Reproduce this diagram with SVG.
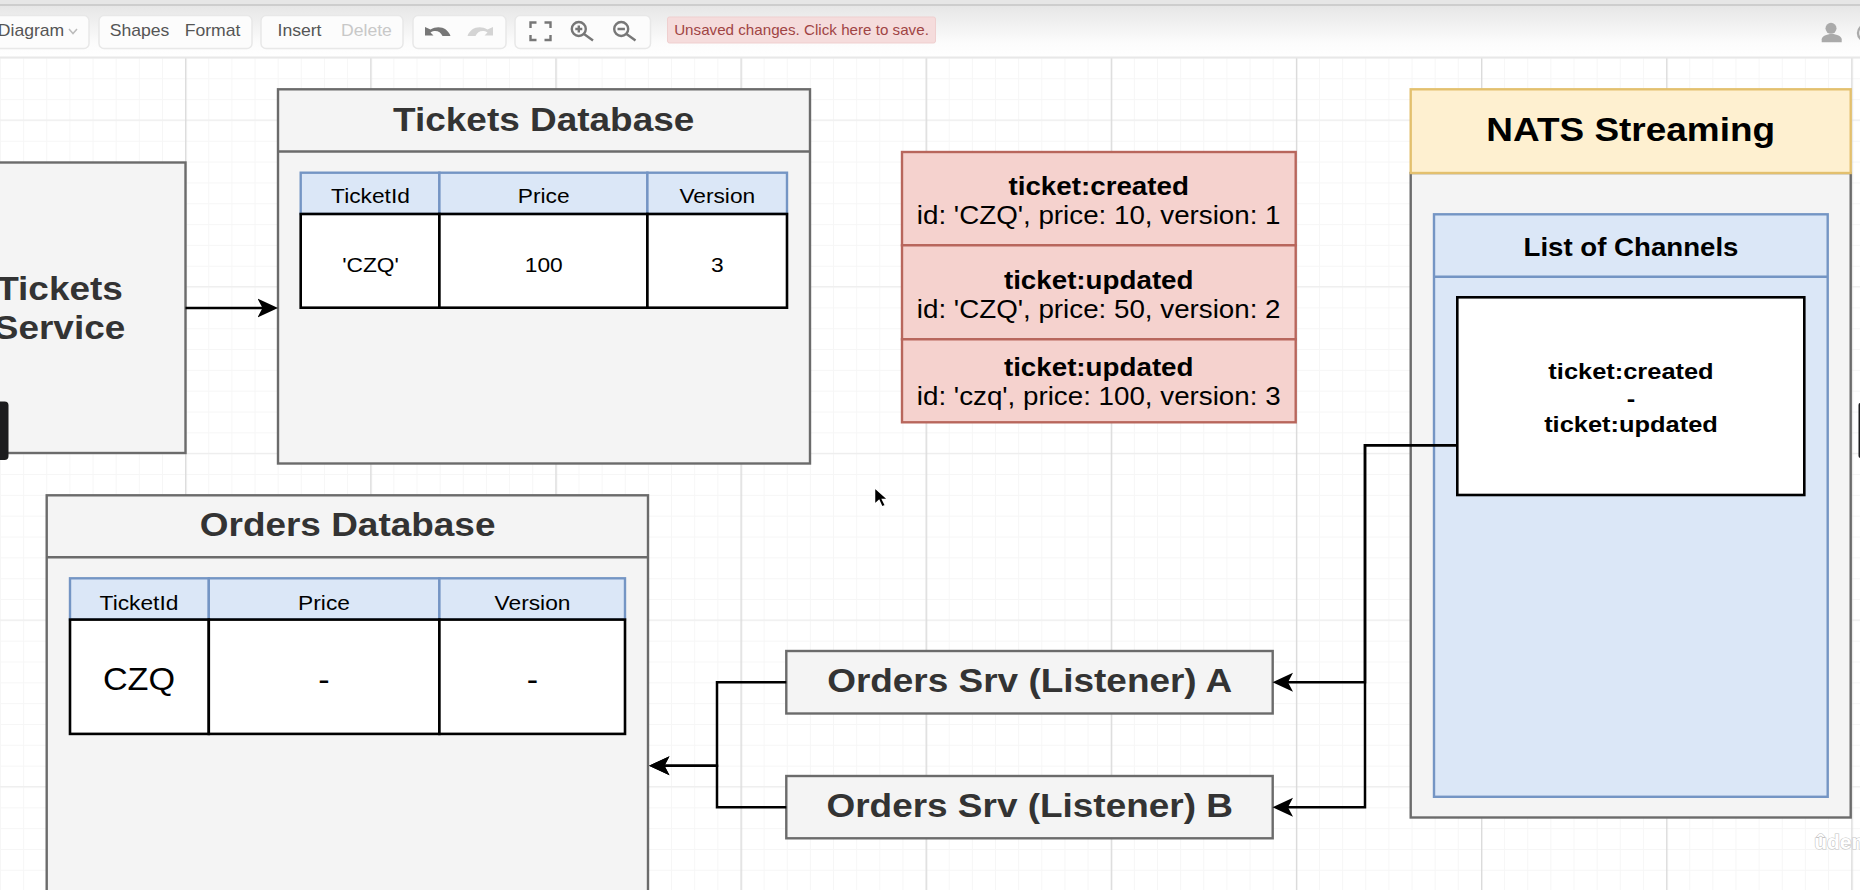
<svg xmlns="http://www.w3.org/2000/svg" width="1860" height="890" viewBox="0 0 1860 890">
<style>
text{font-family:"Liberation Sans",Arial,sans-serif;text-anchor:middle}
.box{fill:#f4f4f4;stroke:#6b6b6b;stroke-width:2.4}
.hl{fill:none;stroke:#6b6b6b;stroke-width:2.4}
.blue{fill:#dbe7f7;stroke:#7495c4;stroke-width:2.4}
.cell{fill:#fff;stroke:#000;stroke-width:2.6}
.red{fill:#f5d2ce;stroke:#b8665c;stroke-width:2.4}
.yellow{fill:#fef0d0;stroke:#e3c06e;stroke-width:2.4}
.title{font-size:33.300px;font-weight:700;fill:#333}
.th{font-size:20.500px;fill:#000}
.evb{font-size:25px;font-weight:700;fill:#000}
.ev{font-size:25px;fill:#000}
.big{font-size:30.800px;fill:#000}
.nats{font-size:33.300px;font-weight:700;fill:#000}
.list{font-size:24.900px;font-weight:700;fill:#000}
.chan{font-size:22.900px;font-weight:700;fill:#000}
.tb{font-size:16px;fill:#555}
.off{fill:#c8c8c8}
.btn{fill:#fcfcfc;stroke:#e8e8e8;stroke-width:1.5}
.ic{fill:none;stroke:#777;stroke-width:2.4}
.conn{fill:none;stroke:#000;stroke-width:2.500;marker-end:url(#arrow)}
</style>
<defs>
<linearGradient id="tbg" x1="0" y1="0" x2="0" y2="1"><stop offset="0" stop-color="#e3e3e3"/><stop offset="0.75" stop-color="#fcfcfc"/><stop offset="1" stop-color="#fff"/></linearGradient>
<pattern id="minor" patternUnits="userSpaceOnUse" x="0" y="36.600" width="23.140" height="20.830"><path d="M0.500 0V20.830M0 0.500H23.140" fill="none" stroke="#f6f6f6" stroke-width="1"/></pattern>
<pattern id="majorV" patternUnits="userSpaceOnUse" x="0" y="0" width="185.130" height="890"><path d="M0.700 0V890" fill="none" stroke="#d8d8d8" stroke-width="1.300"/></pattern>
<pattern id="majorH" patternUnits="userSpaceOnUse" x="0" y="119.500" width="1860" height="166.670"><path d="M0 0.700H1860" fill="none" stroke="#ededed" stroke-width="1.300"/></pattern>
<marker id="arrow" markerUnits="userSpaceOnUse" markerWidth="21" markerHeight="20" viewBox="0 0 21 20" refX="5.500" refY="10" orient="auto"><path d="M20.500 10L0 0.500L5 10L0 19.500Z" fill="#000"/></marker>
</defs>

<g id="canvas">
<rect width="1860" height="890" fill="#fff"/>
<rect y="58" width="1860" height="832" fill="url(#minor)"/>
<rect y="58" width="1860" height="832" fill="url(#majorH)"/>
<rect x="185" y="58" width="1675" height="832" fill="url(#majorV)"/>
</g>

<g id="toolbar">
<rect width="1860" height="58" fill="url(#tbg)"/>
<rect y="0" width="1860" height="4" fill="#e6e6e6"/>
<rect y="4" width="1860" height="2" fill="#cdcdcd"/>
<rect y="56.500" width="1860" height="2" fill="#e8e8e8"/>
<rect class="btn" x="-20" y="15.500" width="109" height="33" rx="5"/>
<rect class="btn" x="99" y="15.500" width="153" height="33" rx="5"/>
<rect class="btn" x="261" y="15.500" width="142" height="33" rx="5"/>
<rect class="btn" x="413" y="15.500" width="93" height="33" rx="5"/>
<rect class="btn" x="515" y="15.500" width="135.500" height="33" rx="5"/>
<text class="tb" transform="matrix(1.1 0 0 1 31 36)">Diagram</text>
<path d="M69 29l4 4.500l4-4.500" fill="none" stroke="#bbb" stroke-width="1.500"/>
<text class="tb" transform="matrix(1.1 0 0 1 139.500 36)">Shapes</text>
<text class="tb" transform="matrix(1.1 0 0 1 212.500 36)">Format</text>
<text class="tb" transform="matrix(1.1 0 0 1 299.500 36)">Insert</text>
<text class="tb off" transform="matrix(1.1 0 0 1 366.500 36)">Delete</text>
<path d="M425 27v8.500h8.500l-3-3c5-3 10-1 12 3.500h8c-2.500-8-12-11.500-20-6.500Z" fill="#777"/>
<path d="M493 27v8.500h-8.500l3-3c-5-3-10-1-12 3.500h-8c2.500-8 12-11.500 20-6.500Z" fill="#d4d4d4"/>
<path class="ic" d="M530.500 28v-5.500h6M544.500 22.500h6v5.500M530.500 35v5h6M544.500 40h6v-5"/>
<circle class="ic" cx="578.800" cy="29" r="7"/>
<path class="ic" d="M584 34l9 6.500M578.800 25.500v7M575.300 29h7"/>
<circle class="ic" cx="621.200" cy="29" r="7"/>
<path class="ic" d="M626.500 34l9 6.500M617.500 29h7.400"/>
<rect x="667.500" y="17" width="268" height="26" rx="2" fill="#f5dcdc" stroke="#efcfcf"/>
<text transform="matrix(1.1 0 0 1 801.500 35)" style="font-size:13.800px;fill:#a04444">Unsaved changes. Click here to save.</text>
<circle cx="1831" cy="28.300" r="5.500" fill="#aaa"/>
<path d="M1821.700 42.300v-3c0-3 5-5.300 10-5.300s10 2.300 10 5.300v3Z" fill="#aaa"/>
<circle cx="1866" cy="33" r="8" fill="none" stroke="#aaa" stroke-width="2.400"/>
</g>

<g id="tickets-service">
<rect class="box" x="-65" y="162.500" width="250.500" height="290.500"/>
<text class="title" transform="matrix(1.11 0 0 1 59.500 299.500)">Tickets</text>
<text class="title" transform="matrix(1.11 0 0 1 59.500 339)">Service</text>
</g>
<rect id="overlay-left" x="-10" y="401.500" width="18.500" height="58.500" rx="4" fill="#1c1c1e"/>
<rect id="overlay-right" x="1858.500" y="403" width="10" height="55" rx="2" fill="#1c1c1e"/>

<g id="tickets-database">
<rect class="box" x="278" y="89.300" width="532" height="374.200"/>
<path class="hl" d="M278 151.500H810"/>
<text class="title" transform="matrix(1.11 0 0 1 543.700 130.700)">Tickets Database</text>
<rect class="blue" x="300.700" y="172.700" width="138.700" height="41.300"/>
<rect class="blue" x="439.400" y="172.700" width="208" height="41.300"/>
<rect class="blue" x="647.400" y="172.700" width="139.600" height="41.300"/>
<rect class="cell" x="300.700" y="214" width="138.700" height="93.700"/>
<rect class="cell" x="439.400" y="214" width="208" height="93.700"/>
<rect class="cell" x="647.400" y="214" width="139.600" height="93.700"/>
<text class="th" transform="matrix(1.11 0 0 1 370.500 203.300)">TicketId</text>
<text class="th" transform="matrix(1.11 0 0 1 543.700 203.300)">Price</text>
<text class="th" transform="matrix(1.11 0 0 1 717.300 203.300)">Version</text>
<text class="th" transform="matrix(1.11 0 0 1 370.500 272.300)">'CZQ'</text>
<text class="th" transform="matrix(1.11 0 0 1 543.700 272.300)">100</text>
<text class="th" transform="matrix(1.11 0 0 1 717.300 272.300)">3</text>
</g>

<g id="events">
<rect class="red" x="902" y="152" width="393.700" height="93.300"/>
<rect class="red" x="902" y="245.300" width="393.700" height="94"/>
<rect class="red" x="902" y="339.300" width="393.700" height="83"/>
<text class="evb" transform="matrix(1.11 0 0 1 1098.700 195.300)">ticket:created</text>
<text class="ev" transform="matrix(1.11 0 0 1 1098.700 224)">id: 'CZQ', price: 10, version: 1</text>
<text class="evb" transform="matrix(1.11 0 0 1 1098.700 289)">ticket:updated</text>
<text class="ev" transform="matrix(1.11 0 0 1 1098.700 318)">id: 'CZQ', price: 50, version: 2</text>
<text class="evb" transform="matrix(1.11 0 0 1 1098.700 376)">ticket:updated</text>
<text class="ev" transform="matrix(1.11 0 0 1 1098.700 405)">id: 'czq', price: 100, version: 3</text>
</g>

<g id="nats-streaming">
<rect class="box" x="1410.700" y="173" width="440" height="644.500"/>
<rect class="yellow" x="1410.700" y="89.300" width="440" height="83.700"/>
<text class="nats" transform="matrix(1.11 0 0 1 1630.700 141)">NATS Streaming</text>
</g>

<g id="list-of-channels">
<rect class="blue" x="1434" y="214.300" width="393.700" height="582.500"/>
<path d="M1434 276.700H1827.700" fill="none" stroke="#7495c4" stroke-width="2.400"/>
<text class="list" transform="matrix(1.11 0 0 1 1631 255.800)">List of Channels</text>
</g>

<g id="channels">
<rect class="cell" x="1457.300" y="297.300" width="347" height="197.700"/>
<text class="chan" transform="matrix(1.11 0 0 1 1631 378.500)">ticket:created</text>
<text class="chan" transform="matrix(1.11 0 0 1 1631 405.500)">-</text>
<text class="chan" transform="matrix(1.11 0 0 1 1631 432.200)">ticket:updated</text>
</g>

<g id="orders-database">
<rect class="box" x="46.700" y="495.300" width="601.300" height="420"/>
<path class="hl" d="M46.700 557.300H648"/>
<text class="title" transform="matrix(1.11 0 0 1 347.600 536.200)">Orders Database</text>
<rect class="blue" x="70" y="578.300" width="138.800" height="41.300"/>
<rect class="blue" x="208.800" y="578.300" width="230.600" height="41.300"/>
<rect class="blue" x="439.400" y="578.300" width="185.600" height="41.300"/>
<rect class="cell" x="70" y="619.600" width="138.800" height="114.300"/>
<rect class="cell" x="208.800" y="619.600" width="230.600" height="114.300"/>
<rect class="cell" x="439.400" y="619.600" width="185.600" height="114.300"/>
<text class="th" transform="matrix(1.11 0 0 1 139 609.500)">TicketId</text>
<text class="th" transform="matrix(1.11 0 0 1 324 609.500)">Price</text>
<text class="th" transform="matrix(1.11 0 0 1 532.500 609.500)">Version</text>
<text class="big" transform="matrix(1.11 0 0 1 139 690)">CZQ</text>
<text class="big" transform="matrix(1.11 0 0 1 324 690)">-</text>
<text class="big" transform="matrix(1.11 0 0 1 532.500 690)">-</text>
</g>

<g id="listener-a">
<rect class="box" x="786.300" y="651" width="486.400" height="62.500"/>
<text class="title" transform="matrix(1.11 0 0 1 1029.700 692.300)">Orders Srv (Listener) A</text>
</g>
<g id="listener-b">
<rect class="box" x="786.300" y="776" width="486.400" height="62.300"/>
<text class="title" transform="matrix(1.11 0 0 1 1029.700 817.300)">Orders Srv (Listener) B</text>
</g>

<g id="connectors">
<path class="conn" d="M185.500 308H263"/>
<path class="conn" d="M1457.300 445.300H1365V682.300H1287.500"/>
<path class="conn" d="M1457.300 445.300H1365V807.300H1287.500"/>
<path class="conn" d="M786.300 682.300H717V765.700H664"/>
<path class="conn" d="M786.300 807.300H717V765.700H664"/>
</g>

<g id="cursor">
<path d="M874.500 487.500V504.500L879 500.500L882 507L885.500 505.500L882.500 499.500H888Z" fill="#000" stroke="#fff" stroke-width="1.500"/>
</g>

<g id="watermark">
<text transform="translate(1848 849)" style="font-size:21px;font-weight:700;fill:#fff;stroke:#c4c4c4;stroke-width:1.200;paint-order:stroke">ûdemy</text>
</g>
</svg>
